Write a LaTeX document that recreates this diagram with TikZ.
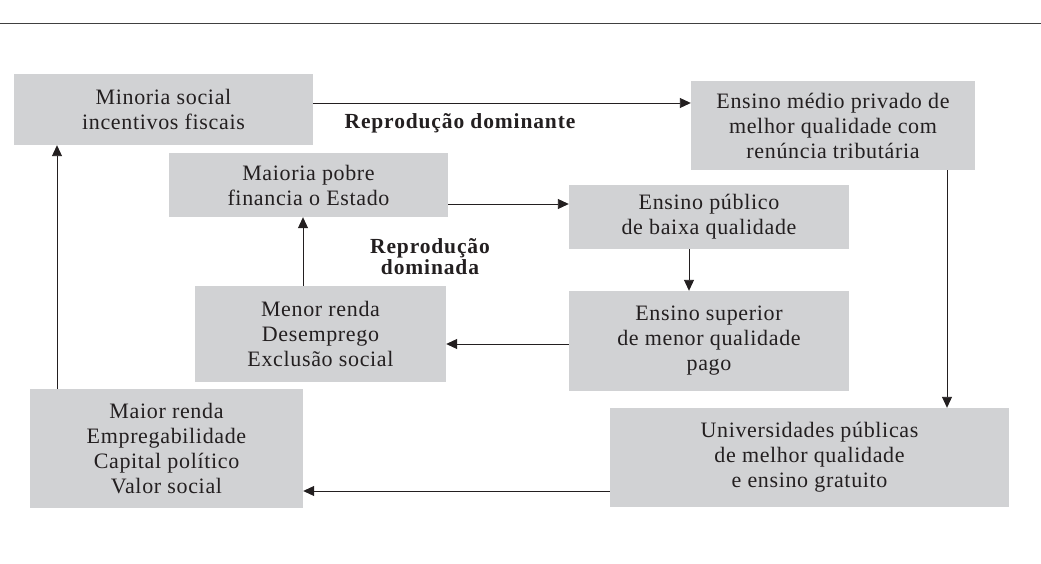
\documentclass[tikz,border=0pt]{standalone}
\usepackage{fontspec}
\setmainfont{Liberation Serif}
\newfontfamily\boxfont{Liberation Serif}[LetterSpace=3]
\newfontfamily\lblfont{Liberation Serif}[LetterSpace=4]
\usetikzlibrary{arrows.meta}
\definecolor{boxgray}{HTML}{D1D2D4}
\definecolor{ink}{HTML}{231F20}
\tikzset{
  x=1pt, y=-1pt,
  box/.style={fill=boxgray, draw=none, inner sep=0pt, align=center, text=ink,
    font=\boxfont\fontsize{22}{25}\selectfont},
  lbl/.style={inner sep=0pt, align=center, text=ink,
    font=\lblfont\bfseries\fontsize{21.5}{21}\selectfont},
  arr/.style={draw=ink, line width=0.9pt, -{Triangle[length=11pt,width=10pt]}}
}
\begin{document}
\begin{tikzpicture}
\useasboundingbox (0,0) rectangle (1041,564);
\draw[black!75, line width=1pt] (0,24) -- (1041,24);

\node[box, minimum width=299pt, minimum height=71pt] (A) at (163.5,109.5) {Minoria social\\incentivos fiscais};
\node[box, minimum width=284pt, minimum height=89pt] (B) at (833,125.5) {Ensino médio privado de\\melhor qualidade com\\renúncia tributária};
\node[box, minimum width=279pt, minimum height=64pt] (C) at (308.5,185) {Maioria pobre\\financia o Estado};
\node[box, minimum width=280pt, minimum height=64pt] (D) at (709,217) {Ensino público\\de baixa qualidade};
\node[box, minimum width=280pt, minimum height=100pt] (E) at (709,341) {Ensino superior\\de menor qualidade\\pago};
\node[box, minimum width=251pt, minimum height=96pt] (F) at (320.5,334) {Menor renda\\Desemprego\\Exclusão social};
\node[box, minimum width=273pt, minimum height=119pt] (G) at (166.5,448.5) {Maior renda\\Empregabilidade\\Capital político\\Valor social};
\node[box, minimum width=399pt, minimum height=99pt] (H) at (809.5,457.5) {Universidades públicas\\de melhor qualidade\\e ensino gratuito};

\node[lbl, anchor=base] (L1) at (460,129) {Reprodução dominante};
\node[lbl, anchor=base] (L2) at (430,274) {Reprodução\\dominada};

\draw[arr] (A.east |- 0,103) -- (B.west |- 0,103);
\draw[arr] (C.east |- 0,204) -- (D.west |- 0,204);
\draw[arr] (D.south -| 689,0) -- (E.north -| 689,0);
\draw[arr] (E.west |- 0,344) -- (F.east |- 0,344);
\draw[arr] (F.north -| 303,0) -- (C.south -| 303,0);
\draw[arr] (G.north -| 57,0) -- (A.south -| 57,0);
\draw[arr] (B.south -| 947,0) -- (H.north -| 947,0);
\draw[arr] (H.west |- 0,491) -- (G.east |- 0,491);
\end{tikzpicture}
\end{document}
